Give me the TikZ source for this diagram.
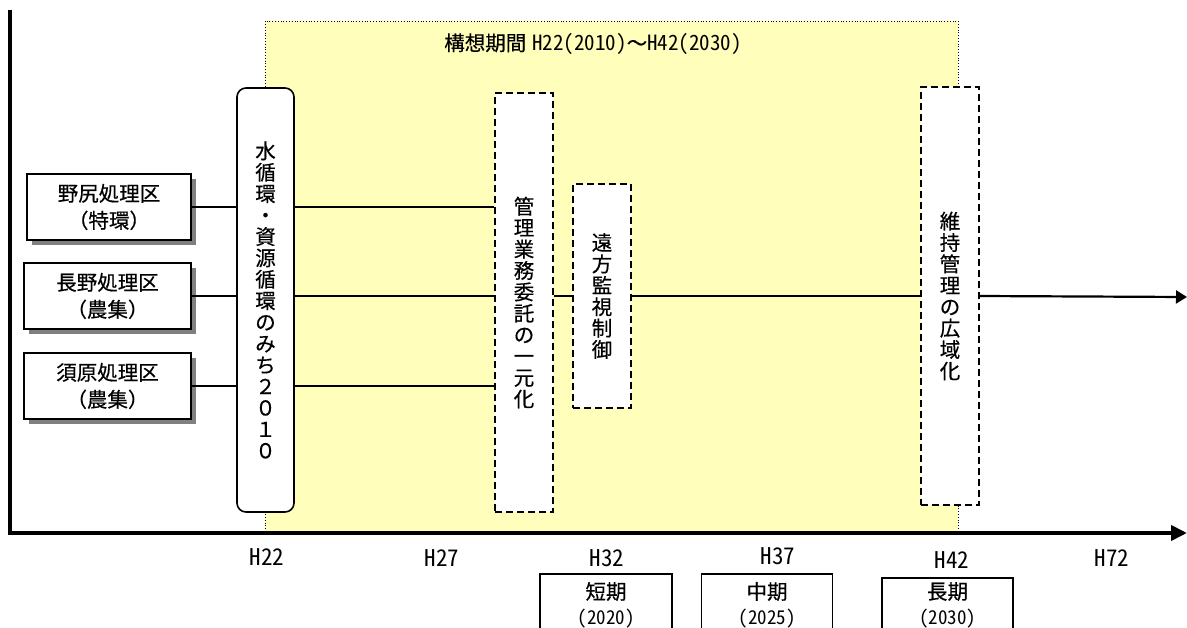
\documentclass[tikz,border=0pt]{standalone}
\usepackage{fontspec}
\setmainfont{Noto Sans CJK JP}[FakeBold=0.4]
\newfontfamily\hw[CharacterWidth=Half]{Noto Sans CJK JP}
\usetikzlibrary{arrows.meta,shadows}
\definecolor{pyellow}{RGB}{255,255,187}
\definecolor{shadowgray}{RGB}{128,128,128}
\tikzset{
  region/.style={draw, line width=1.6pt, fill=white, inner sep=0pt,
    minimum height=66pt, align=center, font=\fontsize{20.5}{27}\selectfont,
    drop shadow={shadow xshift=4.5pt, shadow yshift=-4.5pt, fill=shadowgray, opacity=1}},
  vertbox/.style={draw, fill=white, inner sep=0pt, minimum width=57pt,
    align=center, font=\fontsize{20.5}{21.4}\selectfont},
  roundbox/.style={vertbox, line width=1.6pt, rounded corners=9pt},
  dashbox/.style={vertbox, line width=1.9pt, dash pattern=on 7pt off 4pt},
  conn/.style={line width=2.2pt},
  axisline/.style={line width=3.8pt, line join=miter},
  ticklabel/.style={font=\hw\fontsize{23}{23}\selectfont, inner sep=0pt},
  termframe/.style={draw, line width=1.6pt, minimum width=132pt, minimum height=120pt, anchor=north, inner sep=0pt},
  termtext/.style={align=center, inner sep=0pt, font=\fontsize{20.5}{25}\selectfont},
  period/.style={fill=pyellow, draw=black, dotted, line width=0.8pt, inner sep=0pt}
}
\begin{document}
\begin{tikzpicture}[x=1pt,y=-1pt]
\useasboundingbox (0,0) rectangle (1187,627);
% planning period
\node[period, minimum width=693pt, minimum height=512pt] (period) at (611.5,277) {};
\node[font=\fontsize{20.5}{22}\selectfont, inner sep=0pt] (title) at (593,44) {構想期間\hspace{6pt}{\hw\fontsize{21}{22}\selectfont H22(2010)}～{\hw\fontsize{21}{22}\selectfont H42(2030)}};
% axes
\coordinate (ytop) at (10,10);
\coordinate (origin) at (10,533);
\coordinate (xend) at (1187,533);
\draw[axisline, -{Triangle[length=16pt,width=15pt]}] (ytop) -- (origin) -- (xend);
% tick labels
\node[ticklabel] (t22) at (267,557) {H22};
\node[ticklabel] (t27) at (442,558) {H27};
\node[ticklabel] (t32) at (607,558) {H32};
\node[ticklabel] (t37) at (778,556) {H37};
\node[ticklabel] (t42) at (952,560) {H42};
\node[ticklabel] (t72) at (1112,558) {H72};
% term boxes
\node[termframe] (short) at (606,573) {};
\node[termframe, minimum width=131pt] (mid) at (767,573) {};
\node[termframe, minimum width=131pt] (long) at (947.5,577) {};
\node[termtext] (shortT) at (606,605) {短期\\{\hw\fontsize{19}{25}\selectfont(2020)}};
\node[termtext] (midT) at (767,605) {中期\\{\hw\fontsize{19}{25}\selectfont(2025)}};
\node[termtext] (longT) at (947.5,605) {長期\\{\hw\fontsize{19}{25}\selectfont(2030)}};
% treatment districts
\node[region, minimum width=164pt] (nojiri) at (109,207) {野尻処理区\\（特環）};
\node[region, minimum width=167pt] (nagano) at (107.5,296) {長野処理区\\（農集）};
\node[region, minimum width=167pt] (suhara) at (107.5,386) {須原処理区\\（農集）};
% vertical boxes
\node[roundbox, minimum height=424pt] (mizu) at (265.5,300) {水\\循\\環\\・\\資\\源\\循\\環\\の\\み\\ち\\２\\０\\１\\０};
\node[dashbox, minimum width=58pt, minimum height=419pt] (kanri) at (524,302.5) {管\\理\\業\\務\\委\\託\\の\\一\\元\\化};
\node[dashbox, minimum width=58pt, minimum height=224pt] (enpo) at (602,296) {遠\\方\\監\\視\\制\\御};
\node[dashbox, minimum width=58pt, minimum height=418pt] (iji) at (950,296) {維\\持\\管\\理\\の\\広\\域\\化};
% connectors
\coordinate (flowend) at (1187,297);
\draw[conn] (nojiri.east) -- (nojiri.east -| mizu.west);
\draw[conn] (nagano.east) -- (nagano.east -| mizu.west);
\draw[conn] (suhara.east) -- (suhara.east -| mizu.west);
\draw[conn] (mizu.east |- nojiri.east) -- (kanri.west |- nojiri.east);
\draw[conn] (mizu.east |- nagano.east) -- (kanri.west |- nagano.east);
\draw[conn] (mizu.east |- suhara.east) -- (kanri.west |- suhara.east);
\draw[conn] (kanri.east |- nagano.east) -- (enpo.west |- nagano.east);
\draw[conn] (enpo.east |- nagano.east) -- (iji.west |- nagano.east);
\draw[conn, -{Triangle[length=11pt,width=13pt]}] (iji.east |- nagano.east) -- (flowend);
\end{tikzpicture}
\end{document}
